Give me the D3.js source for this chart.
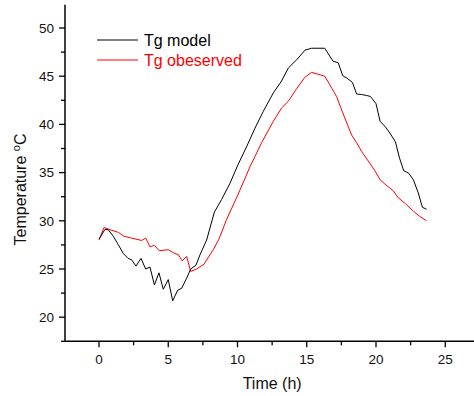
<!DOCTYPE html>
<html>
<head>
<meta charset="utf-8">
<script src="https://cdn.jsdelivr.net/npm/d3@7"></script>
<style>
  body { margin: 0; background: #fff; }
  text { font-family: Arial, "Liberation Sans", sans-serif; }
</style>
</head>
<body>
<svg id="chart" width="474" height="396"></svg>
<script>
const modelTime = [0,0.43,0.67,1.03,1.4,1.76,2.1,2.36,2.67,3.03,3.37,3.68,4.0,4.33,4.64,5.0,5.32,5.68,5.97,6.33,6.62,7.0,7.3,7.77,8.33,8.85,9.46,10.03,10.66,11.26,11.86,12.58,13.18,13.67,14.27,14.87,15.35,16.3,16.9,17.27,17.6,17.9,18.3,18.6,18.96,19.32,19.6,20.0,20.3,20.65,21.0,21.4,21.7,22.0,22.35,22.7,23.05,23.35,23.65];
const modelTemp = [28.1,29.1,29.07,28.4,27.5,26.6,26.1,25.95,25.3,26.1,25.0,25.2,23.35,24.6,22.9,23.9,21.7,22.8,23.0,24.05,25.0,25.4,26.5,28.0,30.9,32.2,33.9,35.8,37.7,39.6,41.35,43.25,44.5,45.85,46.7,47.7,47.9,47.9,46.55,46.4,45.05,44.8,44.35,43.15,43.1,43.0,42.9,42.15,40.3,39.8,39.1,38.2,36.5,35.2,34.95,34.25,32.9,31.4,31.2];
const obsTime = [0,0.36,0.8,1.4,1.8,2.36,3.08,3.37,3.68,4.0,4.35,5.0,5.48,5.72,6.0,6.33,6.62,7.05,7.58,8.25,8.66,9.2,10.03,10.9,11.74,12.58,13.18,13.67,14.27,14.87,15.35,16.3,16.67,17.15,17.6,18.24,18.6,18.96,19.44,19.92,20.3,20.65,21.25,21.6,22.1,22.7,23.17,23.65];
const obsTemp = [28.0,29.3,29.07,28.8,28.4,28.2,27.96,28.2,27.3,27.45,26.9,27.0,26.6,26.5,25.85,26.3,24.75,25.0,25.5,27.0,28.1,30.1,32.7,35.6,38.1,40.3,41.7,42.4,43.7,44.9,45.4,45.0,44.1,42.9,41.2,38.9,38.1,37.2,36.2,35.2,34.25,33.8,33.1,32.4,31.8,31.0,30.45,30.0];
const xTicks = [0,5,10,15,20,25];
const yTicks = [20,25,30,35,40,45,50];
const seriesNames = ["Tg model", "Tg obeserved"];
const seriesColors = ["#000000", "#ff0000"];

const svg = d3.select("#chart");
const plotLeft = 65, plotBottom = 341.3;
const x = d3.scaleLinear().domain([-2.45, 27.6]).range([99 - 2.45 * 13.85, 99 + 27.6 * 13.85]);
const y = d3.scaleLinear().domain([17.5, 52.4]).range([plotBottom, plotBottom - (52.4 - 17.5) * 9.64]);

const xMinor = [-2.5, 2.5, 7.5, 12.5, 17.5, 22.5].filter(v => v >= -2.45);
const yMinor = [17.5, 22.5, 27.5, 32.5, 37.5, 42.5, 47.5];

const gx = svg.append("g").attr("transform", `translate(0,${plotBottom})`);
gx.append("line").attr("x1", plotLeft).attr("x2", 474).attr("y1", 0).attr("y2", 0)
  .attr("stroke", "#000").attr("stroke-width", 1.5);
gx.selectAll(".maj").data(xTicks).join("line").attr("class", "maj")
  .attr("x1", d => x(d)).attr("x2", d => x(d)).attr("y1", 0).attr("y2", 6)
  .attr("stroke", "#000").attr("stroke-width", 1.3);
gx.selectAll(".min").data(xMinor).join("line").attr("class", "min")
  .attr("x1", d => x(d)).attr("x2", d => x(d)).attr("y1", 0).attr("y2", 4)
  .attr("stroke", "#000").attr("stroke-width", 1.3);
gx.selectAll(".lab").data(xTicks).join("text").attr("class", "lab")
  .attr("x", d => x(d)).attr("y", 364 - plotBottom).attr("text-anchor", "middle")
  .attr("font-size", 13.5).attr("fill", "#111").text(d => d);

const gy = svg.append("g").attr("transform", `translate(${plotLeft},0)`);
gy.append("line").attr("x1", 0).attr("x2", 0).attr("y1", y.range()[1]).attr("y2", plotBottom)
  .attr("stroke", "#000").attr("stroke-width", 1.5);
gy.selectAll(".maj").data(yTicks).join("line").attr("class", "maj")
  .attr("x1", -6).attr("x2", 0).attr("y1", d => y(d)).attr("y2", d => y(d))
  .attr("stroke", "#000").attr("stroke-width", 1.3);
gy.selectAll(".min").data(yMinor).join("line").attr("class", "min")
  .attr("x1", -4).attr("x2", 0).attr("y1", d => y(d)).attr("y2", d => y(d))
  .attr("stroke", "#000").attr("stroke-width", 1.3);
gy.selectAll(".lab").data(yTicks).join("text").attr("class", "lab")
  .attr("x", -11).attr("y", d => y(d)).attr("dy", "0.35em").attr("text-anchor", "end")
  .attr("font-size", 13.5).attr("fill", "#111").text(d => d);

svg.append("text").attr("x", x(12.5)).attr("y", 389).attr("text-anchor", "middle")
  .attr("font-size", 16).attr("fill", "#111").text("Time (h)");
const yt = svg.append("text").attr("transform", `translate(26,189.5) rotate(-90)`)
  .attr("text-anchor", "middle").attr("font-size", 16).attr("fill", "#111");
yt.append("tspan").text("Temperature ");
yt.append("tspan").attr("font-size", 11).attr("dy", -6).text("o");
yt.append("tspan").attr("dy", 6).text("C");

const line = d3.line().x(d => x(d[0])).y(d => y(d[1]));
const modelData = modelTime.map((t, i) => [t, modelTemp[i]]);
const obsData = obsTime.map((t, i) => [t, obsTemp[i]]);
svg.append("path").datum(obsData).attr("d", line).attr("fill", "none")
  .attr("stroke", seriesColors[1]).attr("stroke-width", 1);
svg.append("path").datum(modelData).attr("d", line).attr("fill", "none")
  .attr("stroke", seriesColors[0]).attr("stroke-width", 1);

const leg = svg.append("g");
seriesNames.forEach((n, i) => {
  const ly = 40 + i * 20;
  leg.append("line").attr("x1", 97).attr("x2", 138).attr("y1", ly).attr("y2", ly)
    .attr("stroke", seriesColors[i]).attr("stroke-width", 1);
  leg.append("text").attr("x", 144).attr("y", ly + 6).attr("font-size", 16)
    .attr("fill", seriesColors[i]).text(n);
});
</script>
</body>
</html>
